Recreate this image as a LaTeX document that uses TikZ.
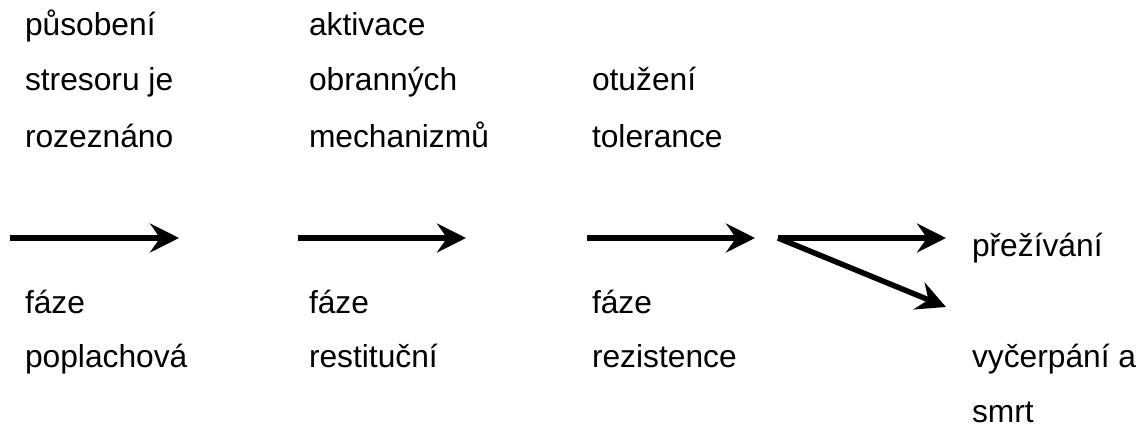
\documentclass[tikz,border=0pt]{standalone}
\usepackage{fontspec}
\setmainfont{Liberation Sans}
\usetikzlibrary{arrows.meta}
\tikzset{
  lbl/.style={anchor=base west, inner sep=0pt, outer sep=0pt, font=\fontsize{31.75}{38}\selectfont},
  arr/.style={line width=5.5pt, -{Stealth[length=29pt,width=29pt,inset=10pt]}}
}
\begin{document}
\begin{tikzpicture}[x=1pt,y=-1pt]
\useasboundingbox (0,0) rectangle (1144,428);
% top texts
\node[lbl] (t11) at (25,36) {působení};
\node[lbl] (t12) at (25,91) {stresoru je};
\node[lbl] (t13) at (25,147) {rozeznáno};
\node[lbl] (t21) at (309,36) {aktivace};
\node[lbl] (t22) at (309,91) {obranných};
\node[lbl] (t23) at (309,147) {mechanizmů};
\node[lbl] (t32) at (592,91) {otužení};
\node[lbl] (t33) at (592,147) {tolerance};
% bottom texts
\node[lbl] (b11) at (25,313) {fáze};
\node[lbl] (b12) at (25,367) {poplachová};
\node[lbl] (b21) at (309,313) {fáze};
\node[lbl] (b22) at (309,367) {restituční};
\node[lbl] (b31) at (592,313) {fáze};
\node[lbl] (b32) at (592,367) {rezistence};
\node[lbl] (r1) at (972,256) {přežívání};
\node[lbl] (r21) at (972,367) {vyčerpání a};
\node[lbl] (r22) at (972,422) {smrt};
% arrows
\coordinate (a1s) at (10,238);
\coordinate (a1e) at (179,238);
\coordinate (a2s) at (298,238);
\coordinate (a2e) at (466,238);
\coordinate (a3s) at (587,238);
\coordinate (a3e) at (755,238);
\coordinate (split) at (778,238);
\coordinate (a4e) at (946,238);
\coordinate (a5e) at (946,307);
\draw[arr] (a1s) -- (a1e);
\draw[arr] (a2s) -- (a2e);
\draw[arr] (a3s) -- (a3e);
\draw[arr] (split) -- (a4e);
\draw[arr] (split) -- (a5e);
\end{tikzpicture}
\end{document}
